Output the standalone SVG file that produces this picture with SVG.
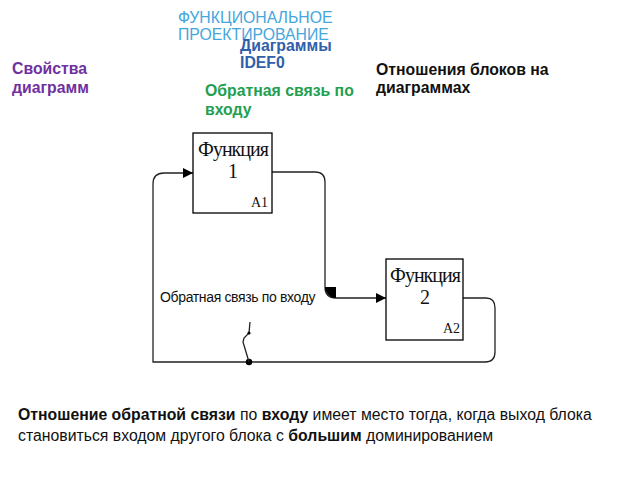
<svg xmlns="http://www.w3.org/2000/svg" width="640" height="480" viewBox="0 0 640 480">
<style>
.h{font-family:"Liberation Sans",Arial,sans-serif;font-size:15.8px}
.b{font-weight:bold}
.box{fill:#fff;stroke:#000;stroke-width:1.3}
.t{font-family:"Liberation Serif","Times New Roman",serif;fill:#111}
.ln{fill:none;stroke:#222;stroke-width:1.3}
</style>
<defs>
<marker id="ah" markerWidth="10" markerHeight="10" refX="10" refY="5" orient="auto" markerUnits="userSpaceOnUse">
<path d="M0,0 L10,5 L0,10 Z" fill="#000"/>
</marker>
</defs>
<rect width="640" height="480" fill="#fff"/>
<g id="titles">
<text class="h" x="178" y="23" fill="#45a6dc">ФУНКЦИОНАЛЬНОЕ</text>
<text class="h" x="178" y="40" fill="#45a6dc">ПРОЕКТИРОВАНИЕ</text>
<text class="h b" x="240" y="51" fill="#2f60aa" font-size="14.5">Диаграммы</text>
<text class="h b" x="240" y="68" fill="#2f60aa" font-size="12.5">IDEF0</text>
<text class="h b" x="12" y="74" fill="#7030a0">Свойства</text>
<text class="h b" x="12" y="93" fill="#7030a0">диаграмм</text>
<text class="h b" x="205" y="96" fill="#22a050">Обратная связь по</text>
<text class="h b" x="205" y="115" fill="#22a050">входу</text>
<text class="h b" x="376" y="75" fill="#111">Отношения блоков на</text>
<text class="h b" x="376" y="93" fill="#111">диаграммах</text>
</g>
<g id="connectors">
<path class="ln" d="M249,362 H153 V184 Q153,173 164,173 H193" marker-end="url(#ah)"/>
<path class="ln" d="M272,172 H315 Q325,172 325,182 V287 Q325,298 336,298 H386" marker-end="url(#ah)"/>
<path d="M325,287 H336 V298 A11,11 0 0 1 325,287 Z" fill="#000"/>
<path class="ln" d="M463,298 H486 Q495,298 495,308 V352 Q495,362 485,362 H249"/>
<circle cx="249" cy="362" r="3.2" fill="#000"/>
<path class="ln" d="M250,322 L249,333 L244,338 L243,342 L249,362"/>
<circle cx="249" cy="333" r="1.6" fill="#000"/>
<text x="160" y="302" font-family="'Liberation Sans',Arial,sans-serif" font-size="14" fill="#111" letter-spacing="-0.35">Обратная связь по  входу</text>
</g>
<g id="f1">
<rect class="box" x="193" y="133" width="79" height="80"/>
<text class="t" x="233" y="156" font-size="20" text-anchor="middle" letter-spacing="-1">Функция</text>
<text class="t" x="233" y="178" font-size="20" text-anchor="middle">1</text>
<text class="t" x="251" y="207" font-size="14">A1</text>
</g>
<g id="f2">
<rect class="box" x="386" y="259" width="77" height="81"/>
<text class="t" x="425" y="282" font-size="20" text-anchor="middle" letter-spacing="-1">Функция</text>
<text class="t" x="425" y="304" font-size="20" text-anchor="middle">2</text>
<text class="t" x="443" y="333" font-size="14">A2</text>
</g>
<g id="caption">
<text class="h" x="18" y="420" fill="#111"><tspan class="b">Отношение обратной связи</tspan> по <tspan class="b">входу</tspan> имеет место тогда, когда выход блока</text>
<text class="h" x="18" y="441" fill="#111">становиться входом другого блока с <tspan class="b">большим</tspan> доминированием</text>
</g>
</svg>
